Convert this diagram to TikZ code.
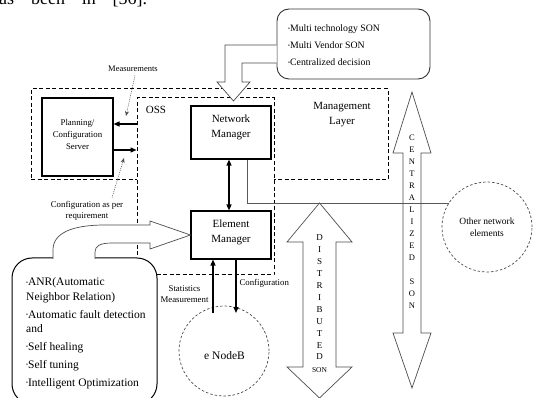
\documentclass[tikz,border=0pt]{standalone}
\usepackage{fontspec}
\setmainfont{Liberation Serif}
\usetikzlibrary{arrows.meta,calc}
\newcommand{\bul}{{\fontsize{5.5}{5.5}\selectfont\raisebox{0.7ex}{\textbullet}}}
\begin{document}
\begin{tikzpicture}[x=1pt,y=-1pt,
  box/.style={draw, line width=1.1pt, fill=white, inner sep=0pt},
  dbox/.style={draw, line width=1pt, dash pattern=on 4pt off 2.5pt, inner sep=0pt},
  hollow/.style={draw=black!70, line width=0.7pt, fill=white, line join=miter},
  hshape/.style={draw=black!70, line width=0.7pt, line join=miter},
  harrow/.style={line width=1.3pt, -{Triangle[length=6pt,width=5pt]}},
  harrowboth/.style={line width=1.3pt, {Triangle[length=6pt,width=5pt]}-{Triangle[length=6pt,width=5pt]}},
  pointer/.style={black!70, line width=0.5pt, dash pattern=on 1pt off 1pt, -{Stealth[length=5pt,width=4pt]}},
  small/.style={font=\fontsize{8.8}{11.5}\selectfont},
  mid/.style={font=\fontsize{11}{15}\selectfont},
  circ/.style={circle, draw=black!70, line width=0.7pt, dash pattern=on 2.5pt off 2pt, minimum size=90pt, inner sep=0pt}
]
\useasboundingbox (0,0) rectangle (533,398);

% cut-off line of preceding text
\node[anchor=base west, inner sep=0pt, font=\fontsize{18}{18}\selectfont] (prev) at (-1,5) {\makebox[148pt][s]{as been in [56].}};

% management layer and OSS
\node[dbox, minimum width=357pt, minimum height=91pt] (mgmt) at (209.5,134.5) {};
\node[dbox, fill=white, minimum width=137pt, minimum height=177pt] (oss) at (205.5,186.5) {};
\node[mid, align=center] (mgmtlabel) at (342,114.5) {Management\\Layer};
\node[mid] (osslabel) at (156,110) {OSS};

% planning server
\node[box, minimum width=71pt, minimum height=78pt] (pcs) at (77.5,137) {};
\node[align=center, font=\fontsize{8.8}{12}\selectfont] (pcstext) at (77.5,134.5) {Planning/\\Configuration\\Server};

% network manager / element manager
\node[box, minimum width=80pt, minimum height=53pt] (nm) at (231,132.5) {};
\node[mid, align=center] (nmtext) at (231,127) {Network\\Manager};
\node[box, minimum width=80pt, minimum height=48pt] (em) at (231,235) {};
\node[mid, align=center] (emtext) at (231,232) {Element\\Manager};

% top rounded box
\node[draw=black!80, line width=0.9pt, rounded corners=12pt, fill=white, minimum width=153pt, minimum height=70pt] (multi) at (353.5,44) {};
\foreach \t [count=\i] in {Multi technology SON, Multi Vendor SON, Centralized decision}
  \node[anchor=base west, inner sep=0pt, font=\fontsize{9.8}{9.8}\selectfont] (multi\i) at (288,15+17*\i) {\bul\t};

% hollow bent arrow from top box to network manager
\path[hollow] (multi.west |- 0,45) -- (225,45) -- (225,82) -- (217,82) -- (233.5,101) -- (250,82) -- (242,82) -- (242,63) -- (multi.west |- 0,63);

% circles
\node[circ] (enb) at (224,351) {};
\node[font=\fontsize{11.5}{14}\selectfont] (enbt) at (224.5,356) {e NodeB};
\node[circ, align=center, font=\fontsize{9.5}{12}\selectfont] (other) at (487,227) {Other network\\elements};

% distributed SON arrow
\draw[hshape] (319.5,203) -- (352,242) -- (336,242) -- (336,367) -- (352,367) -- (319.5,398) -- (287,367) -- (303,367) -- (303,242) -- (287,242) -- cycle;
\node[align=center, inner sep=0pt, font=\fontsize{9}{11.9}\selectfont] (dson) at (319.5,297.5) {D\\I\\S\\T\\R\\I\\B\\U\\T\\E\\D};
\node[inner sep=0pt, font=\fontsize{7.5}{9}\selectfont] (dson2) at (319.5,370) {SON};

% centralized SON arrow
\draw[hshape] (412,92) -- (431,153) -- (421,153) -- (421,333) -- (431,333) -- (412,388) -- (393,333) -- (403,333) -- (403,153) -- (393,153) -- cycle;
\node[align=center, inner sep=0pt, font=\fontsize{8.5}{12}\selectfont] (cson) at (412,222) {C\\E\\N\\T\\R\\A\\L\\I\\Z\\E\\D\\[12pt]S\\O\\N};

% connectors
\draw[harrowboth] ([xshift=-2pt]nm.south) -- ([xshift=-2pt]em.north);
\draw[black!65, line width=0.8pt] ([xshift=16pt]nm.south) |- (other.148);
\draw[harrow] (oss.west |- 0,124) -- (pcs.east |- 0,124);
\draw[harrow] (pcs.east |- 0,150) -- (oss.west |- 0,150);

\coordinate (sa) at ([xshift=-18pt]em.south);
\coordinate (sb) at ([xshift=5pt]em.south);
\draw[harrow] (sa |- 0,313) -- (sa);
\draw[harrow] (sb) -- (sb |- 0,313);

% labels with pointers
\node[font=\fontsize{8.5}{10}\selectfont] (meas) at (133,69) {Measurements};
\coordinate (measend) at (126,116);
\draw[pointer] ([xshift=2pt]meas.south) -- (measend);
\node[align=center, small] (cfgreq) at (87,211) {Configuration as per\\requirement};
\coordinate (cfgend) at (124,158);
\draw[pointer] ([xshift=25pt]cfgreq.north) -- (cfgend);

\node[align=center, anchor=east, small] (stat) at (212,294) {Statistics\\Measurement};
\node[anchor=west, small] (cfglab) at (236,283) {Configuration};

% ANR box
\node[draw, line width=1pt, rounded corners=20pt, fill=white, minimum width=145pt, minimum height=146pt] (anr) at (84.5,331) {};
\foreach \t/\yy [count=\i] in {{\bul ANR(Automatic}/286, {Neighbor Relation)}/301, {\bul Automatic fault detection}/318, {and}/332, {\bul Self healing}/350, {\bul Self tuning}/368, {\bul Intelligent Optimization}/386}
  \node[anchor=base west, inner sep=0pt, font=\fontsize{11.5}{11.5}\selectfont] (anr\i) at (26,\yy) {\t};

% hollow curved arrow from ANR box to element manager
\path[hollow] (53,259) -- (53,250) .. controls (53,233) and (72,225) .. (105,225) -- (150,225) -- (150,221) -- (em.west |- 0,235) -- (150,249) -- (150,243) -- (112,243) .. controls (100,243) and (95,246) .. (95,252) -- (95,259);
\end{tikzpicture}
\end{document}
